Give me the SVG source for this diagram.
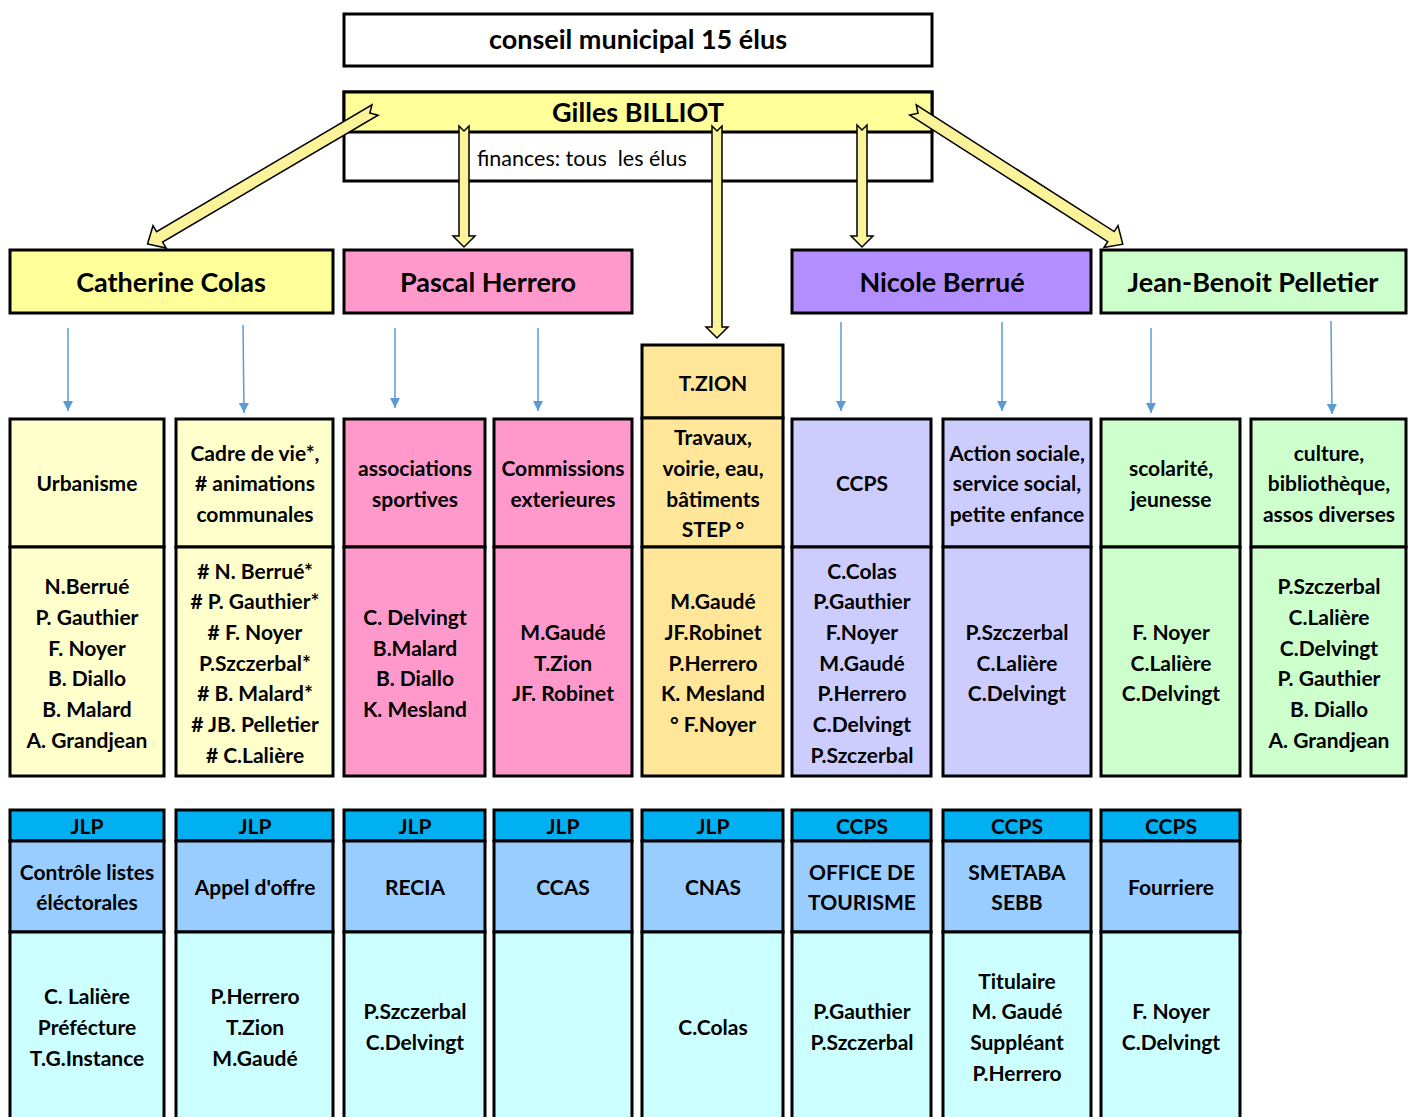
<svg xmlns="http://www.w3.org/2000/svg" width="1411" height="1117" viewBox="0 0 1411 1117">
<style>
  .b{stroke:#000;stroke-width:3}
  .t{font-family:Lato,'Open Sans','DejaVu Sans',sans-serif;font-weight:bold;font-size:21px;text-anchor:middle;fill:#000}
  .h{font-size:27px}
  .fin{font-family:Lato,'Open Sans','DejaVu Sans',sans-serif;font-size:21.5px;fill:#000;white-space:pre}
  .ya{fill:#FAF39A;stroke:#000;stroke-width:1.5;stroke-linejoin:miter}
  .bl{stroke:#5B9BD5;stroke-width:1.5;fill:none;marker-end:url(#bh)}
  .cy{fill:#FFFFCC}.pk{fill:#FF99CC}.or{fill:#FFE699}.lv{fill:#CCCCFF}.gr{fill:#CCFFCC}
  .band{fill:#00B0F0}.hd{fill:#99CCFF}.nm{fill:#CCFFFF}
</style>
<defs>
  <marker id="bh" viewBox="0 0 10 10" refX="10" refY="5" markerWidth="10" markerHeight="10" markerUnits="userSpaceOnUse" orient="auto">
    <path d="M0,0 L10,5 L0,10 Z" fill="#5B9BD5"/>
  </marker>
</defs>
<rect width="1411" height="1117" fill="#fff"/>

<g id="conseil">
  <rect class="b" x="344" y="14" width="588" height="52" fill="#fff"/>
  <text class="t h" x="638" y="49">conseil municipal 15 élus</text>
</g>
<g id="billiot">
  <rect class="b" x="344" y="92" width="588" height="89" fill="#fff"/>
  <rect class="b" x="344" y="92" width="588" height="40" fill="#FFFF99"/>
  <text class="t h" x="638" y="122">Gilles BILLIOT</text>
  <text class="fin" x="477" y="166">finances: tous  les élus</text>
</g>

<g id="colas">
  <rect class="b" x="10" y="250" width="323" height="63" fill="#FFFF99"/>
  <text class="t h" x="171" y="292">Catherine Colas</text>
</g>
<g id="herrero">
  <rect class="b" x="344" y="250" width="288" height="63" fill="#FF99CC"/>
  <text class="t h" x="488" y="292">Pascal Herrero</text>
</g>
<g id="berrue">
  <rect class="b" x="792" y="250" width="299" height="63" fill="#B38EFF"/>
  <text class="t h" x="942" y="292">Nicole Berrué</text>
</g>
<g id="pelletier">
  <rect class="b" x="1101" y="250" width="305" height="63" fill="#CCFFCC"/>
  <text class="t h" x="1253" y="292">Jean-Benoit Pelletier</text>
</g>

<g id="urbanisme">
  <rect class="b cy" x="10" y="419" width="154" height="128"/>
  <rect class="b cy" x="10" y="547" width="154" height="229"/>
  <text class="t" x="87" y="491">Urbanisme</text>
  <text class="t" x="87" y="594">N.Berrué</text>
  <text class="t" x="87" y="625">P. Gauthier</text>
  <text class="t" x="87" y="656">F. Noyer</text>
  <text class="t" x="87" y="686">B. Diallo</text>
  <text class="t" x="87" y="717">B. Malard</text>
  <text class="t" x="87" y="748">A. Grandjean</text>
</g>
<g id="cadre">
  <rect class="b cy" x="176" y="419" width="157" height="128"/>
  <rect class="b cy" x="176" y="547" width="157" height="229"/>
  <text class="t" x="255" y="461">Cadre de vie*,</text>
  <text class="t" x="255" y="491"># animations</text>
  <text class="t" x="255" y="522">communales</text>
  <text class="t" x="255" y="579"># N. Berrué*</text>
  <text class="t" x="255" y="609"># P. Gauthier*</text>
  <text class="t" x="255" y="640"># F. Noyer</text>
  <text class="t" x="255" y="671">P.Szczerbal*</text>
  <text class="t" x="255" y="701"># B. Malard*</text>
  <text class="t" x="255" y="732"># JB. Pelletier</text>
  <text class="t" x="255" y="763"># C.Lalière</text>
</g>
<g id="associations">
  <rect class="b pk" x="344" y="419" width="141" height="128"/>
  <rect class="b pk" x="344" y="547" width="141" height="229"/>
  <text class="t" x="415" y="476">associations</text>
  <text class="t" x="415" y="507">sportives</text>
  <text class="t" x="415" y="625">C. Delvingt</text>
  <text class="t" x="415" y="656">B.Malard</text>
  <text class="t" x="415" y="686">B. Diallo</text>
  <text class="t" x="415" y="717">K. Mesland</text>
</g>
<g id="commissions">
  <rect class="b pk" x="494" y="419" width="138" height="128"/>
  <rect class="b pk" x="494" y="547" width="138" height="229"/>
  <text class="t" x="563" y="476">Commissions</text>
  <text class="t" x="563" y="507">exterieures</text>
  <text class="t" x="563" y="640">M.Gaudé</text>
  <text class="t" x="563" y="671">T.Zion</text>
  <text class="t" x="563" y="701">JF. Robinet</text>
</g>
<g id="travaux">
  <rect class="b or" x="642" y="345" width="141" height="73"/>
  <rect class="b or" x="642" y="418" width="141" height="129"/>
  <rect class="b or" x="642" y="547" width="141" height="229"/>
  <text class="t" x="713" y="391">T.ZION</text>
  <text class="t" x="713" y="445">Travaux,</text>
  <text class="t" x="713" y="476">voirie, eau,</text>
  <text class="t" x="713" y="507">bâtiments</text>
  <text class="t" x="713" y="537">STEP °</text>
  <text class="t" x="713" y="609">M.Gaudé</text>
  <text class="t" x="713" y="640">JF.Robinet</text>
  <text class="t" x="713" y="671">P.Herrero</text>
  <text class="t" x="713" y="701">K. Mesland</text>
  <text class="t" x="713" y="732">° F.Noyer</text>
</g>
<g id="ccps">
  <rect class="b lv" x="792" y="419" width="139" height="128"/>
  <rect class="b lv" x="792" y="547" width="139" height="229"/>
  <text class="t" x="862" y="491">CCPS</text>
  <text class="t" x="862" y="579">C.Colas</text>
  <text class="t" x="862" y="609">P.Gauthier</text>
  <text class="t" x="862" y="640">F.Noyer</text>
  <text class="t" x="862" y="671">M.Gaudé</text>
  <text class="t" x="862" y="701">P.Herrero</text>
  <text class="t" x="862" y="732">C.Delvingt</text>
  <text class="t" x="862" y="763">P.Szczerbal</text>
</g>
<g id="action-sociale">
  <rect class="b lv" x="943" y="419" width="148" height="128"/>
  <rect class="b lv" x="943" y="547" width="148" height="229"/>
  <text class="t" x="1017" y="461">Action sociale,</text>
  <text class="t" x="1017" y="491">service social,</text>
  <text class="t" x="1017" y="522">petite enfance</text>
  <text class="t" x="1017" y="640">P.Szczerbal</text>
  <text class="t" x="1017" y="671">C.Lalière</text>
  <text class="t" x="1017" y="701">C.Delvingt</text>
</g>
<g id="scolarite">
  <rect class="b gr" x="1101" y="419" width="139" height="128"/>
  <rect class="b gr" x="1101" y="547" width="139" height="229"/>
  <text class="t" x="1171" y="476">scolarité,</text>
  <text class="t" x="1171" y="507">jeunesse</text>
  <text class="t" x="1171" y="640">F. Noyer</text>
  <text class="t" x="1171" y="671">C.Lalière</text>
  <text class="t" x="1171" y="701">C.Delvingt</text>
</g>
<g id="culture">
  <rect class="b gr" x="1251" y="419" width="155" height="128"/>
  <rect class="b gr" x="1251" y="547" width="155" height="229"/>
  <text class="t" x="1329" y="461">culture,</text>
  <text class="t" x="1329" y="491">bibliothèque,</text>
  <text class="t" x="1329" y="522">assos diverses</text>
  <text class="t" x="1329" y="594">P.Szczerbal</text>
  <text class="t" x="1329" y="625">C.Lalière</text>
  <text class="t" x="1329" y="656">C.Delvingt</text>
  <text class="t" x="1329" y="686">P. Gauthier</text>
  <text class="t" x="1329" y="717">B. Diallo</text>
  <text class="t" x="1329" y="748">A. Grandjean</text>
</g>

<g id="controle-listes">
  <rect class="b band" x="10" y="810" width="154" height="31"/>
  <rect class="b hd" x="10" y="841" width="154" height="91"/>
  <rect class="b nm" x="10" y="932" width="154" height="195"/>
  <text class="t" x="87" y="834">JLP</text>
  <text class="t" x="87" y="880">Contrôle listes</text>
  <text class="t" x="87" y="910">éléctorales</text>
  <text class="t" x="87" y="1004">C. Lalière</text>
  <text class="t" x="87" y="1035">Préfécture</text>
  <text class="t" x="87" y="1066">T.G.Instance</text>
</g>
<g id="appel-offre">
  <rect class="b band" x="176" y="810" width="157" height="31"/>
  <rect class="b hd" x="176" y="841" width="157" height="91"/>
  <rect class="b nm" x="176" y="932" width="157" height="195"/>
  <text class="t" x="255" y="834">JLP</text>
  <text class="t" x="255" y="895">Appel d'offre</text>
  <text class="t" x="255" y="1004">P.Herrero</text>
  <text class="t" x="255" y="1035">T.Zion</text>
  <text class="t" x="255" y="1066">M.Gaudé</text>
</g>
<g id="recia">
  <rect class="b band" x="344" y="810" width="141" height="31"/>
  <rect class="b hd" x="344" y="841" width="141" height="91"/>
  <rect class="b nm" x="344" y="932" width="141" height="195"/>
  <text class="t" x="415" y="834">JLP</text>
  <text class="t" x="415" y="895">RECIA</text>
  <text class="t" x="415" y="1019">P.Szczerbal</text>
  <text class="t" x="415" y="1050">C.Delvingt</text>
</g>
<g id="ccas">
  <rect class="b band" x="494" y="810" width="138" height="31"/>
  <rect class="b hd" x="494" y="841" width="138" height="91"/>
  <rect class="b nm" x="494" y="932" width="138" height="195"/>
  <text class="t" x="563" y="834">JLP</text>
  <text class="t" x="563" y="895">CCAS</text>
</g>
<g id="cnas">
  <rect class="b band" x="642" y="810" width="141" height="31"/>
  <rect class="b hd" x="642" y="841" width="141" height="91"/>
  <rect class="b nm" x="642" y="932" width="141" height="195"/>
  <text class="t" x="713" y="834">JLP</text>
  <text class="t" x="713" y="895">CNAS</text>
  <text class="t" x="713" y="1035">C.Colas</text>
</g>
<g id="office-tourisme">
  <rect class="b band" x="792" y="810" width="139" height="31"/>
  <rect class="b hd" x="792" y="841" width="139" height="91"/>
  <rect class="b nm" x="792" y="932" width="139" height="195"/>
  <text class="t" x="862" y="834">CCPS</text>
  <text class="t" x="862" y="880">OFFICE DE</text>
  <text class="t" x="862" y="910">TOURISME</text>
  <text class="t" x="862" y="1019">P.Gauthier</text>
  <text class="t" x="862" y="1050">P.Szczerbal</text>
</g>
<g id="smetaba">
  <rect class="b band" x="943" y="810" width="148" height="31"/>
  <rect class="b hd" x="943" y="841" width="148" height="91"/>
  <rect class="b nm" x="943" y="932" width="148" height="195"/>
  <text class="t" x="1017" y="834">CCPS</text>
  <text class="t" x="1017" y="880">SMETABA</text>
  <text class="t" x="1017" y="910">SEBB</text>
  <text class="t" x="1017" y="989">Titulaire</text>
  <text class="t" x="1017" y="1019">M. Gaudé</text>
  <text class="t" x="1017" y="1050">Suppléant</text>
  <text class="t" x="1017" y="1081">P.Herrero</text>
</g>
<g id="fourriere">
  <rect class="b band" x="1101" y="810" width="139" height="31"/>
  <rect class="b hd" x="1101" y="841" width="139" height="91"/>
  <rect class="b nm" x="1101" y="932" width="139" height="195"/>
  <text class="t" x="1171" y="834">CCPS</text>
  <text class="t" x="1171" y="895">Fourriere</text>
  <text class="t" x="1171" y="1019">F. Noyer</text>
  <text class="t" x="1171" y="1050">C.Delvingt</text>
</g>

<g id="connectors">
  <path class="ya" transform="translate(375,110) rotate(59.5)" d="M-6,0 L0,6 L6,0 L6,250 L13,250 L0,264 L-13,250 L-6,250 Z"/>
  <path class="ya" transform="translate(913,110) rotate(-57.4)" d="M-6,0 L0,6 L6,0 L6,235 L13,235 L0,249 L-13,235 L-6,235 Z"/>
  <path class="ya" transform="translate(464,126)" d="M-5,0 L0,5 L5,0 L5,110 L11,110 L0,121 L-11,110 L-5,110 Z"/>
  <path class="ya" transform="translate(717,126)" d="M-5,0 L0,5 L5,0 L5,201 L11,201 L0,212 L-11,201 L-5,201 Z"/>
  <path class="ya" transform="translate(862,125)" d="M-5,0 L0,5 L5,0 L5,111 L11,111 L0,122 L-11,111 L-5,111 Z"/>
  <line class="bl" x1="68" y1="328" x2="68" y2="411"/>
  <line class="bl" x1="243" y1="325" x2="244" y2="413"/>
  <line class="bl" x1="395" y1="328" x2="395" y2="408"/>
  <line class="bl" x1="538" y1="328" x2="538" y2="411"/>
  <line class="bl" x1="841" y1="322" x2="841" y2="411"/>
  <line class="bl" x1="1002" y1="322" x2="1002" y2="411"/>
  <line class="bl" x1="1151" y1="328" x2="1151" y2="413"/>
  <line class="bl" x1="1331" y1="321" x2="1332" y2="414"/>
</g>
</svg>
